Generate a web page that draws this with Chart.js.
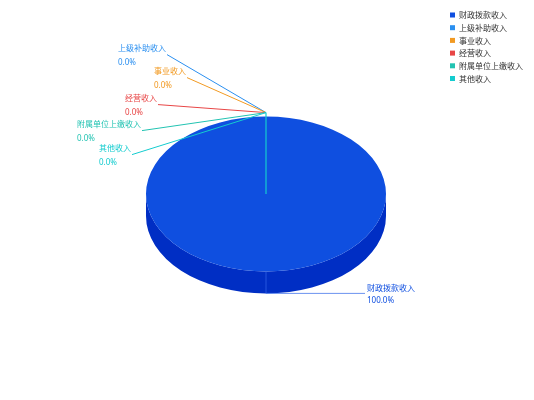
<!DOCTYPE html>
<html>
<head>
<meta charset="utf-8">
<script src="https://cdn.jsdelivr.net/npm/chart.js@4"></script>
<style>
  html, body { margin: 0; padding: 0; background: #fff; }
  canvas { display: block; }
</style>
</head>
<body>
<canvas id="chart" width="534" height="400"></canvas>
<script>
// data
const categories = ['财政拨款收入', '上级补助收入', '事业收入', '经营收入', '附属单位上缴收入', '其他收入'];
const values = [100, 0, 0, 0, 0, 0];

// styles
const colors = ['#0f4fe0', '#2a8ff0', '#f29a22', '#e84646', '#22c3b2', '#14cccf'];
const sideColors = ['#002ec4', '#1470d0', '#d07a10', '#c03030', '#10a090', '#10a8aa'];
const FONT = '"Noto Sans", "Noto Sans CJK SC", sans-serif';
const FLAT = 0.645;   // vertical squash of the pie
const DEPTH = 22;     // thickness of the pie
// label end points relative to the anchor, for the small slices
const sideLabels = [null, [-99, -58], [-79, -35], [-108, -8], [-124, 18], [-134, 42]];

const total = values.reduce((a, b) => a + b, 0);
const pct = v => (v / total * 100).toFixed(1) + '%';

const pie3d = {
    id: 'pie3d',
    beforeDatasetsDraw(chart) {
        const ctx = chart.ctx;
        const arcs = chart.getDatasetMeta(0).data;
        // sides (front half only)
        arcs.forEach((arc, i) => {
            const { x, y, startAngle, endAngle, outerRadius: r } = arc.getProps(['x', 'y', 'startAngle', 'endAngle', 'outerRadius']);
            if (endAngle - startAngle <= 0) return;
            [-2 * Math.PI, 0, 2 * Math.PI].forEach(k => {
                const lo = Math.max(startAngle, k), hi = Math.min(endAngle, k + Math.PI);
                if (hi <= lo) return;
                ctx.beginPath();
                ctx.ellipse(x, y, r, r * FLAT, 0, lo, hi);
                ctx.ellipse(x, y + DEPTH, r, r * FLAT, 0, hi, lo, true);
                ctx.closePath();
                ctx.fillStyle = sideColors[i];
                ctx.fill();
            });
            // faint seam at the middle of the slice
            const mid = (startAngle + endAngle) / 2;
            if (Math.sin(mid) > 0) {
                const sx = x + r * Math.cos(mid), sy = y + r * FLAT * Math.sin(mid);
                ctx.beginPath();
                ctx.moveTo(sx, sy);
                ctx.lineTo(sx, sy + DEPTH);
                ctx.strokeStyle = 'rgba(60,110,240,0.6)';
                ctx.lineWidth = 1;
                ctx.stroke();
            }
        });
        const { x, y } = arcs[0];
        ctx.save();
        ctx.translate(x, y);
        ctx.scale(1, FLAT);
        ctx.translate(-x, -y);
    },
    afterDatasetsDraw(chart) {
        const ctx = chart.ctx;
        ctx.restore();
        const arcs = chart.getDatasetMeta(0).data;
        ctx.font = '8px ' + FONT;
        ctx.textBaseline = 'middle';
        arcs.forEach((arc, i) => {
            const { x, y, startAngle, endAngle, outerRadius: r } = arc.getProps(['x', 'y', 'startAngle', 'endAngle', 'outerRadius']);
            const mid = (startAngle + endAngle) / 2;
            const c = colors[i];
            ctx.strokeStyle = c;
            ctx.fillStyle = c;
            ctx.lineWidth = 1;
            if (values[i] === 0) {
                const ax = x + r * Math.cos(mid), ay = y + r * FLAT * Math.sin(mid) - 4;
                const [dx, dy] = sideLabels[i];
                const ex = ax + dx, ey = ay + dy;
                ctx.beginPath();
                ctx.moveTo(ax, ay);
                ctx.lineTo(ex, ey);
                ctx.stroke();
                const w = ctx.measureText(categories[i]).width;
                ctx.textAlign = 'left';
                ctx.fillText(categories[i], ex - 1 - w, ey - 5.5);
                ctx.fillText(pct(values[i]), ex - 1 - w, ey + 8.5);
            } else {
                const ax = x + r * Math.cos(mid), ay = y + r * FLAT * Math.sin(mid) + DEPTH;
                const ex = ax + 99;
                ctx.beginPath();
                ctx.moveTo(ax, ay);
                ctx.lineTo(ex, ay);
                ctx.strokeStyle = 'rgba(70,120,235,0.8)';
                ctx.stroke();
                ctx.textAlign = 'left';
                ctx.fillText(categories[i], ex + 2, ay - 5);
                ctx.fillText(pct(values[i]), ex + 2, ay + 7);
            }
        });
        // edge of the empty slices, center to top
        const last = arcs[arcs.length - 1];
        const { x, y, outerRadius: r } = last;
        ctx.beginPath();
        ctx.moveTo(x, y);
        ctx.lineTo(x, y - r * FLAT - 4);
        ctx.strokeStyle = colors[colors.length - 1];
        ctx.lineWidth = 1.2;
        ctx.stroke();
    },
    afterDraw(chart) {
        // legend top right
        const ctx = chart.ctx;
        ctx.font = '8px ' + FONT;
        ctx.textBaseline = 'middle';
        ctx.textAlign = 'left';
        categories.forEach((name, i) => {
            const ly = 15 + i * 12.7;
            ctx.fillStyle = colors[i];
            ctx.fillRect(450, ly - 2.5, 5, 5);
            ctx.fillStyle = '#333';
            ctx.fillText(name, 459, ly + 1);
        });
    }
};

new Chart(document.getElementById('chart'), {
    type: 'pie',
    data: {
        labels: categories,
        datasets: [{
            data: values,
            backgroundColor: colors,
            borderWidth: 0
        }]
    },
    options: {
        responsive: false,
        animation: false,
        layout: { padding: { left: 146, right: 148, top: 74, bottom: 86 } },
        plugins: {
            legend: { display: false },
            tooltip: { enabled: false }
        }
    },
    plugins: [pie3d]
});
</script>
</body>
</html>
